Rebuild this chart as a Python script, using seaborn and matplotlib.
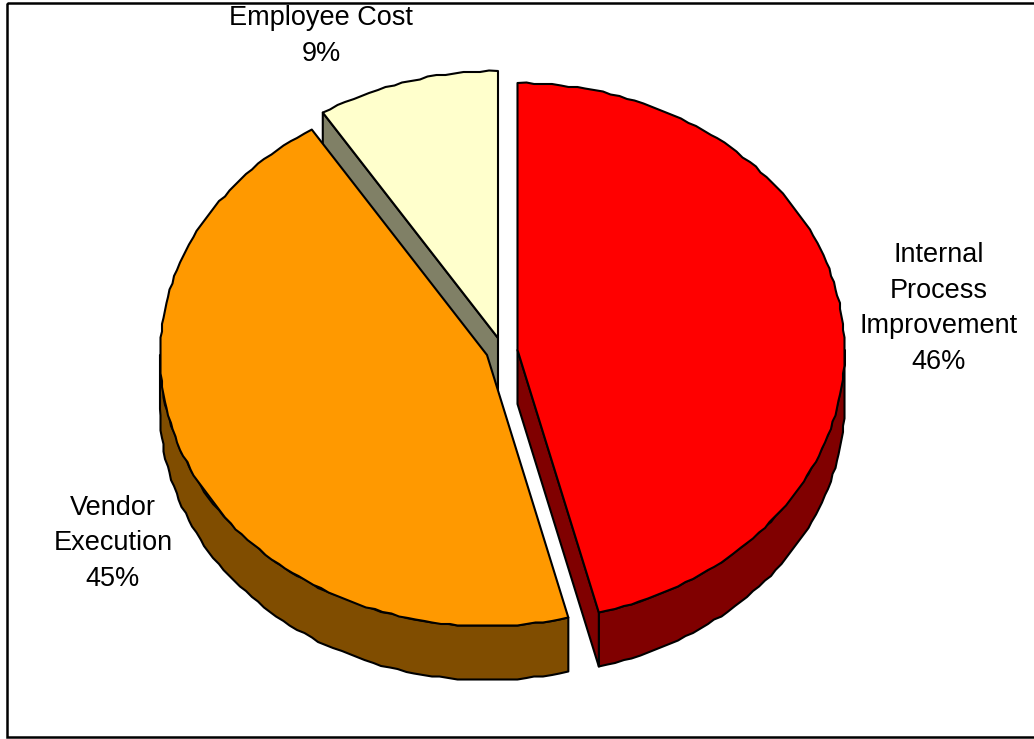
import numpy as np
import matplotlib
matplotlib.use("Agg")
import matplotlib.pyplot as plt
from matplotlib.patches import Polygon, Rectangle
import seaborn as sns

# Share of cost by category, in percent
categories = ["Internal\nProcess\nImprovement", "Vendor\nExecution", "Employee Cost"]
shares = [46, 45, 9]
top_colors = ["#FF0000", "#FF9900", "#FFFFCC"]
side_colors = ["#800000", "#804D00", "#808066"]

# Each slice's apex in canvas pixels (slices are pulled apart from each other)
apexes = [(517.5, 350), (487, 355), (498, 338)]
label_xy = [(939, 308.5), (113, 543.5), (321, 36)]

RX, RY_BACK, RY_FRONT = 327, 267, 271
DEPTH = 54
LW = 1.5

sns.set_theme(style="white", font="Liberation Sans")
palette = sns.color_palette(top_colors)
side_palette = sns.color_palette(side_colors)

fig = plt.figure(figsize=(10.34, 7.39), dpi=100)
ax = fig.add_axes([0, 0, 1, 1])
ax.set_xlim(0, 1034)
ax.set_ylim(739, 0)
ax.axis("off")

ax.add_patch(Rectangle((6.5, 3), 1040, 734, fill=False, ec="black", lw=1.8, zorder=0))


def rim(apex, a0, a1, drop=0.0):
    """Points on the tilted rim from angle a0 to a1 (degrees, counter-clockwise)."""
    n = max(2, int(abs(a1 - a0) / 1.5) + 1)
    t = np.radians(np.linspace(a0, a1, n))
    ry = np.where(np.sin(t) >= 0, RY_BACK, RY_FRONT)
    x = apex[0] + RX * np.cos(t)
    y = apex[1] - ry * np.sin(t) + drop
    # The rim is traced on a coarse pixel grid, which gives the edge its slight stepping
    x[1:-1] = np.round(x[1:-1] / 1.5) * 1.5
    y[1:-1] = np.round(y[1:-1] / 1.5) * 1.5
    return np.column_stack([x, y])


def poly(points, color, z):
    ax.add_patch(Polygon(points, closed=True, fc=color, ec="black", lw=LW,
                         joinstyle="round", zorder=z))


# Slices run clockwise from twelve o'clock
edges = 90 - np.cumsum([0] + shares) * 3.6
spans = list(zip(edges[:-1], edges[1:]))

# Back slice first so the nearer ones overlap it
for i in [2, 1, 0]:
    start, end = spans[i]
    apex = np.array(apexes[i], float)
    z = 3 - i

    # Outer wall: the part of the rim facing the viewer
    wall = {0: (0, end), 1: (-180, start)}.get(i)
    if wall is not None:
        upper = rim(apex, wall[0], wall[1])
        lower = rim(apex, wall[1], wall[0], DEPTH)
        poly(np.vstack([upper, lower]), side_palette[i], z)

    # Cut face that turns toward the viewer
    if i in (0, 2):
        cut = end if i == 0 else start
        corner = rim(apex, cut, cut)[0]
        poly([apex, corner, corner + [0, DEPTH], apex + [0, DEPTH]], side_palette[i], z)

    # Lid
    poly(np.vstack([[apex], rim(apex, start, end)]), palette[i], z + 0.5)

    # Category label with its share
    ax.text(*label_xy[i], f"{categories[i]}\n{shares[i]}%", ha="center", va="center",
            ma="center", fontsize=19.5, linespacing=1.47, color="black", zorder=5)

fig.savefig("out.png", dpi=100)
